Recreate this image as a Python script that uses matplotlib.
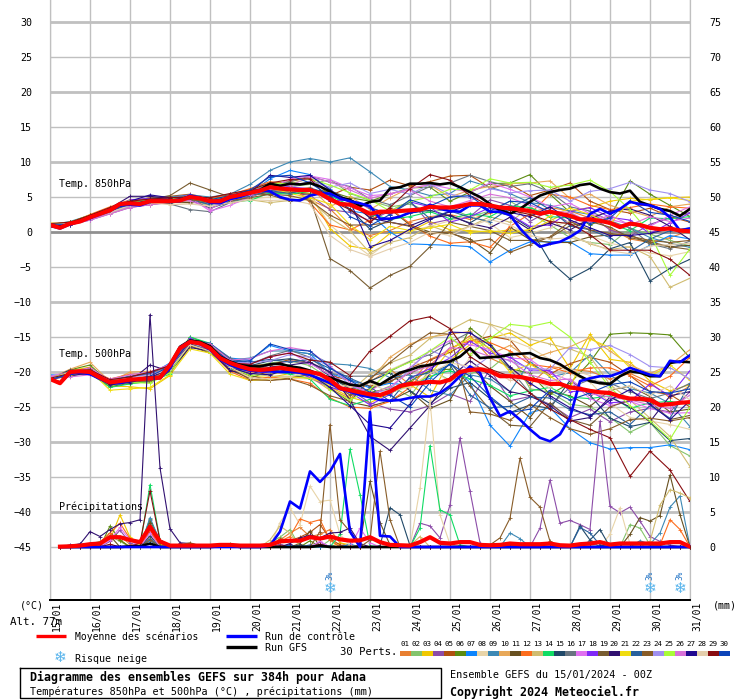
import matplotlib
matplotlib.use("Agg")
import matplotlib.pyplot as plt
import numpy as np

# run steps: every 6h for the main runs, every 12h for the temperature perts
hours = np.arange(0, 385, 6)
hours_12 = np.arange(0, 385, 12)
dates = ["15/01","16/01","17/01","18/01","19/01","20/01","21/01","22/01","23/01",
         "24/01","25/01","26/01","27/01","28/01","29/01","30/01","31/01"]
pert_colors = ["#e87f30","#84c46c","#f0c800","#8c4ca8","#b05010","#5c8c10","#0c84fc","#e8d4a8",
               "#3c88b4","#e8a858","#685020","#fc6c1c","#d0bc70","#10dc64","#204868","#687480",
               "#e070f0","#8028f8","#785c30","#301070","#f0dc10","#28609c","#885c28","#a090f0",
               "#a8fc38","#d870d8","#200890","#e4ceac","#880c10","#0c44b8"]
snow_hours = [168, 360, 378]

t850_mean = [1.0,0.6,1.2,1.5,2.1,2.6,3.1,4.0,4.1,4.0,4.4,4.4,4.4,4.5,5.0,4.8,4.4,4.4,5.0,5.3,5.6,5.9,6.4,6.2,6.1,6.0,6.0,5.5,4.7,4.0,3.9,3.3,
             2.6,2.9,2.9,3.0,3.1,3.2,3.6,3.5,3.5,3.7,4.0,4.0,3.8,3.5,3.4,3.2,3.0,2.6,2.9,2.6,2.3,1.8,1.8,1.6,1.3,0.7,1.2,1.0,0.6,0.4,0.5,0.2,0.1]
t850_gfs = [1.0,0.7,1.2,1.6,2.2,2.7,3.1,4.0,4.2,4.1,4.4,4.5,4.5,4.6,5.1,4.9,4.3,4.4,5.0,5.4,5.7,6.0,6.9,6.6,6.9,6.8,7.0,6.5,5.8,4.9,4.6,3.7,
            4.3,4.5,6.2,6.4,6.9,6.9,7.0,6.8,7.0,6.4,5.7,5.0,4.0,3.1,2.6,3.3,4.3,5.2,5.7,6.0,6.2,6.7,6.9,6.2,5.7,5.5,5.9,4.3,3.8,3.3,3.0,2.3,3.3]
t850_ctrl = [0.9,0.5,1.1,1.5,2.0,2.5,3.0,3.8,3.9,3.8,4.3,4.5,4.4,4.4,5.2,4.9,4.2,4.1,4.7,5.0,5.5,6.0,5.8,5.0,4.6,4.5,5.2,5.5,5.5,4.8,4.4,4.1,
             3.7,1.9,1.9,2.2,2.8,3.1,3.9,3.3,3.0,2.9,3.8,3.8,2.9,2.9,2.4,0.5,-1.0,-2.1,-1.7,-1.4,-0.7,0.2,2.6,3.3,2.6,3.3,4.3,4.0,3.8,3.3,2.1,0.2,0.5]

t500_mean = [-21.0,-21.6,-20.0,-19.9,-20.0,-20.8,-21.5,-21.3,-21.1,-21.0,-20.9,-20.8,-19.0,-16.6,-15.7,-15.9,-16.6,-18.0,-18.7,-19.2,-19.6,-19.7,-19.6,-19.4,-19.6,-19.8,-20.0,-20.3,-21.1,-22.3,-22.6,-22.9,
             -23.2,-23.3,-22.8,-22.0,-21.7,-21.6,-21.4,-21.5,-21.1,-20.0,-19.7,-19.6,-19.9,-20.6,-20.6,-20.7,-21.0,-21.3,-21.7,-21.7,-22.2,-22.4,-22.7,-22.9,-23.0,-23.5,-23.8,-23.8,-24.0,-24.7,-24.6,-24.4,-24.3]
t500_gfs = [-21.0,-21.5,-20.0,-20.0,-20.2,-20.8,-21.7,-21.4,-21.2,-21.0,-20.8,-20.7,-19.0,-16.4,-15.5,-15.7,-16.3,-17.8,-18.5,-19.0,-19.2,-19.2,-18.9,-18.8,-19.2,-19.4,-19.8,-20.4,-20.8,-21.3,-21.8,-22.0,
            -21.3,-21.8,-20.9,-20.1,-19.7,-19.2,-19.0,-18.7,-18.5,-17.8,-16.6,-18.0,-17.9,-17.8,-17.5,-17.4,-17.3,-18.0,-18.3,-18.9,-19.8,-20.6,-21.3,-21.6,-21.7,-20.6,-19.9,-20.1,-20.6,-20.6,-18.7,-18.5,-18.6]
t500_ctrl = [-21.0,-21.6,-20.2,-20.1,-20.3,-21.0,-21.6,-21.6,-21.2,-21.0,-20.9,-20.9,-19.5,-16.5,-15.6,-16.0,-16.8,-18.2,-19.0,-19.5,-19.8,-19.9,-19.9,-20.0,-20.0,-20.1,-20.4,-21.0,-21.6,-22.4,-22.8,-23.3,
             -23.6,-24.0,-24.1,-24.0,-23.7,-23.5,-23.5,-23.0,-22.0,-20.6,-19.2,-20.1,-23.7,-26.3,-25.6,-26.8,-28.2,-29.4,-29.9,-28.9,-26.5,-21.3,-20.9,-20.6,-20.6,-20.1,-19.4,-19.9,-20.4,-20.6,-18.4,-18.6,-17.6]

# precipitation, step number -> mm, all other steps are dry
prec_mean = {1:0.05,2:0.1,3:0.2,4:0.4,5:0.5,6:1.4,7:1.4,8:1.0,9:0.7,10:2.9,11:0.8,12:0.2,13:0.2,14:0.2,15:0.2,16:0.2,17:0.3,18:0.3,19:0.2,20:0.2,21:0.2,22:0.3,
             23:0.8,24:0.9,25:0.9,26:1.4,27:1.2,28:1.5,29:1.1,30:0.9,31:0.95,32:1.4,33:0.7,34:0.3,35:0.25,36:0.2,37:0.7,38:1.4,39:0.6,40:0.5,41:0.7,42:0.7,43:0.3,44:0.25,
             45:0.3,46:0.5,47:0.4,48:0.4,49:0.4,50:0.5,51:0.25,52:0.2,53:0.4,54:0.5,55:0.7,56:0.35,57:0.5,58:0.5,59:0.5,60:0.5,61:0.5,62:0.7,63:0.7,64:0.05}
prec_ctrl = {22:0.2,23:2.2,24:6.5,25:5.5,26:10.8,27:9.3,28:10.8,29:13.3,30:2.2,32:19.3,33:1.6,34:1.5}
prec_gfs = {8:0.1,9:0.1,10:0.5,17:0.1,18:0.2,27:0.2}

prec_perts = {
    1: {5:0.5,6:1.2,7:1.5,8:0.4,10:1.5,11:0.3,23:1.0,24:2.0,25:2.8,26:1.5,27:1.8,28:2.5,29:0.6,41:0.2,46:0.3},
    2: {4:0.4,5:0.8,6:1.6,7:0.8,9:0.5,10:3.0,11:0.4,22:0.6,23:1.4,24:2.5,28:1.0,58:3.2,59:2.7,60:0.3},
    3: {5:0.3,6:1.0,7:4.6,8:1.4,9:0.5,10:2.5,11:0.5,29:0.6,30:0.3},
    4: {6:0.8,7:2.4,8:0.6,10:3.8,11:1.0,23:0.4,27:0.7,37:3.4,38:3.0,39:1.3,40:6.0,41:15.6,42:8.0,43:0.6,49:2.7,50:9.6,51:3.4,52:3.8,53:3.2,54:2.5,55:18.0,56:5.8,57:4.9,58:5.7,59:3.7,60:1.5,61:0.8,62:0.3},
    5: {4:0.5,5:0.6,6:2.0,7:1.0,10:2.2,23:1.2,24:0.9,25:1.4,26:2.1,27:3.2,28:1.2,29:0.3},
    6: {6:3.0,7:1.0,10:4.0,11:0.6,14:0.3,18:0.5,26:0.9},
    7: {3:0.5,10:0.9,24:0.3,30:0.4},
    8: {23:3.5,24:5.6,25:3.2,26:8.7,27:6.5,28:6.7,29:1.8,30:0.2,37:8.4,38:21.0,39:4.6,40:0.4,56:1.8,57:5.6,58:0.4},
    9: {10:4.2,11:0.8,46:2.0,47:1.2,54:0.9,59:0.9,60:0.4,61:2.0,62:5.7,63:7.3},
    11: {5:0.5,6:1.6,10:3.5,25:0.5,26:2.3,31:0.3,32:9.4,33:3.5,34:0.3,58:1.8,59:4.2,60:3.7,61:4.5,62:10.3,63:4.6},
    12: {5:0.7,6:2.0,7:3.4,8:1.2,10:2.4,23:0.8,24:1.5,25:4.0,26:3.5,27:3.9,28:1.0,61:0.3,62:3.9,63:2.5},
    13: {22:1.0,23:3.0,24:2.0,36:0.2,37:1.5,60:0.8,61:6.0,62:8.2,63:7.7,64:7.0},
    14: {10:8.9,11:1.0,29:1.8,30:14.0,31:7.5,32:0.2,37:2.7,38:14.5,39:5.3,40:4.6,41:0.3},
    15: {3:0.3,10:1.6,25:0.3,33:0.2,34:5.6,35:4.6,36:0.2,53:3.0,54:1.0,55:2.5},
    17: {6:1.0,7:2.8,8:1.0,10:2.0,27:0.8,31:2.7,32:0.6,64:0.1},
    20: {2:0.3,3:0.4,4:2.2,5:1.5,6:2.5,7:3.3,8:3.5,9:3.9,10:33.2,11:11.3,12:2.6,13:0.6,14:0.5,15:0.2,24:0.5,25:1.3,26:1.7,27:1.3,28:2.0,29:2.1,30:2.7,31:0.5},
    22: {4:0.3,10:1.2,26:0.3,28:0.2,53:2.8,54:2.0,55:0.3},
    23: {4:0.2,10:1.0,13:0.3,14:0.6,15:0.2,27:2.2,28:17.5,29:3.9,30:2.2,32:1.0,33:13.7,34:3.9,46:4.1,45:1.3,47:12.7,48:7.1,49:5.7,50:0.8,44:0.3},
    29: {6:0.4,9:0.6,10:8.0,11:0.9,23:0.2,27:0.4},
}

t850_perts = [
    [1.1,1.3,2.3,3.2,4.2,4.5,4.6,5.2,4.6,5.0,5.8,6.6,6.4,4.6,3.3,0.5,-0.5,0.2,1.5,2.2,2.5,1.8,2.7,3.2,2.8,3.5,3.0,2.0,0.5,-1.0,-1.5,-0.8,0.2],
    [0.8,1.4,1.9,2.9,3.8,4.6,4.7,4.8,4.2,4.6,5.2,6.0,6.5,6.8,7.5,5.5,4.5,3.6,4.0,2.8,3.4,2.2,3.0,4.4,2.7,1.0,-0.8,-1.5,-1.8,0.5,-0.3,-1.2,-2.0],
    [1.3,1.1,2.4,3.3,4.3,4.1,4.5,4.9,4.7,5.2,5.9,6.8,6.0,5.5,0.5,-2.0,-2.5,-0.2,0.1,1.5,0.3,0.2,0.0,0.3,0.2,1.6,3.0,3.5,4.4,4.8,4.6,4.9,5.0],
    [0.9,1.0,1.7,2.6,3.5,3.9,4.2,5.3,4.0,4.8,5.4,6.0,5.7,5.2,3.2,2.8,1.6,3.0,4.4,1.2,1.8,2.2,4.6,3.8,1.5,3.1,1.2,2.4,0.3,-0.6,1.1,2.0,2.8],
    [1.0,1.4,2.0,3.0,4.3,4.9,5.1,5.4,4.8,5.1,6.0,6.9,7.2,7.8,5.2,6.4,6.0,7.4,6.6,7.2,8.0,8.1,6.3,6.8,5.2,6.0,7.0,4.4,3.2,2.7,3.4,2.2,1.4],
    [1.2,1.0,2.1,2.9,4.4,4.3,4.6,4.7,4.5,5.0,5.6,6.2,5.8,6.0,5.8,4.9,4.4,5.4,6.3,6.4,4.4,5.7,6.9,7.0,8.2,5.4,2.8,1.0,2.2,7.3,5.4,3.8,2.2],
    [0.7,1.2,1.8,3.0,3.9,4.5,4.4,4.4,3.9,4.9,5.5,7.6,8.8,8.2,6.1,3.0,2.6,0.0,-1.7,-1.8,-1.9,-2.1,-4.3,-2.6,-1.4,-1.4,-1.4,-3.1,-3.3,-3.3,-1.9,-0.5,-1.0],
    [1.1,1.3,2.2,3.1,4.0,4.0,4.2,4.1,4.3,4.4,4.7,5.0,4.8,5.3,1.0,-1.3,-3.4,-1.2,0.2,0.8,1.6,2.4,1.2,-0.8,-0.2,0.6,1.6,-0.5,-1.6,-2.2,-3.0,-3.4,-2.8],
    [1.0,1.5,2.4,3.4,4.5,4.8,5.0,5.3,5.0,5.4,6.8,8.8,10.0,10.5,10.0,10.6,8.6,6.5,6.0,5.2,5.5,7.3,6.4,5.5,4.2,3.8,3.0,2.5,1.4,0.6,-0.8,-1.6,-2.2],
    [0.8,1.1,2.0,2.8,3.7,4.4,4.5,5.0,4.5,4.7,5.1,5.8,5.9,6.4,3.6,5.1,3.2,4.9,6.3,6.7,5.0,6.0,6.5,6.9,7.0,7.3,4.8,5.4,3.8,3.0,2.2,3.6,4.0],
    [1.1,1.2,2.1,3.3,4.1,4.3,4.3,4.2,4.3,4.9,5.4,5.6,5.6,5.4,5.8,4.2,2.1,3.3,1.0,0.0,-0.2,-1.0,-3.0,0.7,-1.1,-1.5,-1.5,-0.7,-0.4,-0.4,-1.7,-2.1,-1.9],
    [1.0,1.3,2.5,3.6,4.6,4.7,4.9,5.0,4.9,5.3,6.2,7.2,6.8,4.2,1.0,0.3,1.7,3.4,1.2,-0.6,-1.6,-1.4,-2.2,0.8,2.6,5.4,5.0,3.8,3.2,3.5,4.0,3.6,3.4],
    [0.9,1.1,1.8,2.7,3.6,4.0,4.3,4.4,3.8,4.1,4.6,4.2,4.5,4.6,2.0,0.2,-3.0,-1.5,-0.8,0.9,-0.1,0.8,2.2,1.4,3.6,2.1,-0.4,-1.7,-2.5,-2.1,-3.5,-7.9,-6.6],
    [1.2,1.2,2.2,3.1,4.2,4.3,4.6,4.8,4.2,4.4,4.5,5.6,5.4,5.8,5.2,3.8,2.6,1.8,2.2,2.9,1.9,2.6,2.2,3.7,3.5,2.2,2.0,1.7,1.2,0.2,2.0,1.9,2.2],
    [1.0,1.2,1.9,2.9,4.0,4.4,4.1,4.6,3.4,4.3,5.0,6.0,6.3,5.9,5.0,3.3,0.4,1.7,2.7,3.1,2.3,1.3,3.0,2.4,0.6,-4.2,-6.7,-5.2,-2.4,-1.5,-7.0,-5.2,-3.9],
    [0.9,1.0,2.0,3.2,4.3,4.6,4.0,3.2,2.9,4.2,5.2,6.5,7.2,8.0,7.1,6.5,4.7,3.9,5.2,6.5,7.0,8.1,7.2,6.5,6.9,5.7,3.6,3.0,1.6,0.6,-1.7,-2.4,-1.3],
    [1.1,1.1,1.8,2.9,3.8,4.1,4.5,4.9,3.0,3.8,5.0,6.2,7.6,8.0,7.5,6.3,5.2,5.4,6.2,6.8,6.2,5.7,7.0,6.1,5.0,3.6,4.1,2.6,1.8,1.1,0.8,2.4,3.6],
    [0.8,1.1,2.0,3.1,4.6,4.8,4.7,5.3,4.4,5.1,5.8,6.9,6.4,6.2,4.4,4.6,3.4,2.6,4.3,3.6,1.4,2.2,3.5,2.5,0.8,1.0,2.9,3.5,2.1,1.7,-0.2,1.3,2.7],
    [1.1,1.4,2.2,3.2,4.4,4.7,5.2,7.0,6.0,5.0,5.5,5.3,4.4,4.9,-3.8,-5.5,-8.0,-6.2,-4.9,-2.1,1.4,0.8,0.2,-1.2,-1.2,-0.8,0.9,1.5,0.7,-0.8,-1.4,-2.1,-2.5],
    [1.0,1.2,2.2,3.4,5.1,5.1,4.8,4.9,4.5,5.1,5.6,6.4,6.2,6.2,5.4,4.4,2.0,1.4,0.9,2.0,2.4,1.2,0.6,2.1,0.3,1.3,0.3,1.9,3.0,3.3,2.4,0.8,-1.1],
    [1.2,1.3,2.3,3.1,4.3,4.3,4.5,5.1,4.3,4.6,5.5,6.3,5.5,4.9,4.0,1.0,-1.1,0.8,0.2,0.6,1.1,-0.1,0.2,-0.2,0.4,2.3,3.4,2.5,1.1,4.4,4.7,4.9,4.5],
    [0.9,1.3,2.1,3.0,3.9,4.7,4.4,4.7,3.9,4.8,5.2,5.9,5.5,6.3,5.4,4.6,3.5,2.5,4.3,1.9,3.0,2.1,1.5,3.4,4.9,3.2,0.9,0.3,-0.8,-2.8,-1.0,0.2,0.6],
    [1.0,1.2,2.0,3.0,4.2,4.2,4.4,4.6,4.3,4.5,4.9,5.4,5.2,4.5,2.4,1.0,1.0,1.4,0.8,-0.3,0.0,-1.4,-1.0,-2.9,-1.8,-0.7,1.5,0.3,-0.2,-0.6,-1.2,-1.5,-1.2],
    [0.9,1.0,1.9,2.8,3.7,4.2,4.6,5.0,4.5,4.9,5.7,6.5,6.3,7.3,6.4,7.0,5.5,6.1,5.4,6.8,5.4,4.9,6.2,5.6,5.9,6.0,4.4,5.8,6.2,7.1,6.0,5.5,4.3],
    [1.1,1.4,2.4,3.3,4.5,4.4,4.7,5.2,4.6,5.1,5.9,7.0,6.9,7.6,6.7,5.6,4.6,3.0,4.4,5.0,6.1,6.0,7.6,7.0,7.1,6.4,6.7,7.4,5.8,3.2,-0.2,-6.2,-2.4],
    [1.0,1.1,1.7,2.6,3.5,3.9,4.3,4.5,3.3,4.6,5.3,6.1,6.7,7.8,7.2,6.0,4.8,5.5,6.0,4.4,3.6,4.5,5.4,4.9,3.8,3.0,2.8,1.4,2.4,1.0,2.2,1.5,2.0],
    [0.9,1.0,2.0,3.3,4.4,5.3,4.9,5.0,4.4,5.0,5.6,8.1,7.8,8.1,6.0,4.4,-2.1,-1.2,0.4,1.8,2.9,3.9,3.6,2.8,2.2,3.6,1.7,0.6,-0.5,-0.5,-0.2,0.5,0.0],
    [1.0,1.3,2.0,2.8,3.8,4.2,3.9,4.0,3.7,4.2,4.6,4.5,4.6,4.0,-0.5,-2.5,-3.5,-2.4,-1.5,0.0,-0.5,0.8,1.8,1.0,-0.5,-1.0,-0.8,-1.5,-2.7,-3.1,-2.0,-1.8,-1.6],
    [1.2,1.4,2.4,3.5,4.4,4.7,4.9,5.0,4.9,5.5,6.0,7.0,7.5,7.6,4.5,3.2,1.4,3.5,6.2,8.2,7.4,5.2,3.7,3.1,2.5,1.5,1.2,-0.4,-2.6,-2.6,-2.6,-3.9,-6.2],
    [1.1,1.1,2.0,3.2,4.1,4.4,4.5,5.1,4.6,5.2,6.0,7.9,8.1,7.0,5.2,2.2,0.9,2.5,4.6,3.7,5.0,5.2,3.0,4.4,4.2,2.8,2.2,1.2,2.0,4.5,2.8,2.4,1.5],
]

t500_perts = [
    [-21.0,-20.1,-19.6,-21.8,-21.4,-20.8,-19.5,-15.5,-16.5,-18.9,-19.6,-19.3,-19.0,-20.4,-22.4,-23.8,-21.4,-19.6,-21.8,-18.2,-16.9,-14.8,-18.0,-19.3,-21.8,-19.2,-19.6,-19.9,-21.0,-20.2,-21.5,-23.7,-22.0],
    [-20.9,-20.2,-19.9,-21.5,-20.9,-20.3,-19.2,-15.2,-16.8,-18.4,-19.3,-18.7,-18.4,-19.1,-21.0,-23.0,-23.2,-22.0,-23.5,-19.6,-21.2,-20.2,-19.6,-17.2,-22.4,-22.9,-24.6,-25.0,-26.5,-28.6,-27.2,-30.5,-32.0],
    [-21.0,-19.8,-19.3,-22.0,-22.1,-22.4,-20.5,-16.2,-17.2,-19.6,-20.6,-20.8,-20.2,-20.3,-22.1,-23.6,-24.4,-23.0,-21.8,-23.6,-18.3,-16.1,-15.2,-14.4,-16.2,-15.1,-19.5,-14.6,-18.2,-18.6,-21.3,-22.7,-21.8],
    [-20.6,-20.4,-20.3,-21.4,-21.0,-20.8,-18.9,-15.8,-16.5,-19.2,-20.0,-19.0,-18.4,-18.8,-19.9,-22.5,-24.4,-25.3,-25.7,-24.8,-23.1,-24.2,-19.6,-24.1,-23.5,-24.6,-26.5,-25.3,-27.1,-25.7,-25.2,-25.7,-22.8],
    [-20.9,-20.0,-19.4,-21.7,-21.2,-21.1,-19.4,-15.4,-16.2,-18.5,-19.0,-19.0,-18.2,-18.6,-20.5,-21.2,-22.0,-21.5,-19.4,-18.3,-17.2,-15.6,-14.9,-15.4,-18.8,-20.3,-18.8,-17.9,-18.6,-20.5,-22.8,-23.2,-25.0],
    [-21.1,-19.7,-19.0,-21.6,-21.4,-20.6,-19.1,-15.0,-16.1,-18.1,-19.2,-19.6,-20.2,-20.0,-20.8,-22.2,-22.9,-22.4,-21.3,-19.8,-19.6,-13.7,-15.9,-19.5,-20.2,-23.2,-21.6,-18.6,-14.6,-14.4,-14.5,-14.7,-18.0],
    [-20.4,-20.5,-19.7,-21.1,-20.6,-20.4,-18.7,-15.6,-15.9,-18.0,-18.3,-16.2,-17.0,-17.4,-20.2,-21.1,-22.3,-21.6,-21.9,-20.9,-18.8,-21.5,-27.6,-30.6,-25.8,-25.1,-28.1,-30.1,-31.0,-30.8,-30.8,-30.4,-31.1],
    [-21.0,-19.9,-20.0,-21.9,-21.0,-20.7,-20.4,-16.1,-16.9,-19.4,-21.0,-21.0,-20.9,-21.0,-22.0,-23.2,-22.5,-19.7,-18.4,-19.3,-21.5,-18.0,-13.2,-15.4,-16.5,-18.2,-20.2,-21.4,-24.5,-26.5,-27.0,-27.5,-28.2],
    [-20.7,-20.6,-20.1,-21.5,-21.2,-20.5,-19.2,-15.7,-16.6,-18.3,-18.0,-17.0,-17.0,-17.4,-18.8,-19.0,-19.5,-20.8,-20.4,-22.6,-23.3,-20.4,-21.0,-22.8,-18.5,-20.7,-20.1,-17.5,-20.4,-22.4,-23.0,-24.5,-27.8],
    [-20.9,-19.6,-18.6,-21.4,-20.0,-19.9,-19.7,-15.3,-16.3,-19.0,-20.0,-20.3,-20.0,-20.7,-22.6,-22.4,-21.2,-17.9,-16.0,-15.0,-14.6,-14.2,-17.5,-16.2,-18.2,-17.2,-16.4,-15.1,-17.0,-19.0,-20.2,-19.0,-16.8],
    [-21.0,-20.2,-20.1,-22.1,-21.6,-21.4,-20.0,-15.9,-16.8,-19.7,-20.9,-19.8,-19.9,-20.4,-22.3,-24.3,-24.9,-24.1,-22.7,-25.2,-24.0,-19.1,-22.0,-24.2,-26.5,-22.8,-23.4,-24.9,-22.6,-22.0,-23.5,-25.7,-25.3],
    [-21.0,-20.6,-19.7,-21.0,-20.3,-20.3,-19.3,-15.9,-17.0,-19.9,-21.2,-20.7,-21.0,-21.6,-23.7,-25.0,-25.2,-24.2,-22.2,-19.0,-16.6,-15.5,-15.8,-17.0,-18.9,-19.3,-20.1,-19.4,-19.4,-20.5,-22.0,-20.6,-17.9],
    [-21.0,-20.3,-19.8,-21.2,-21.0,-21.2,-19.6,-16.0,-16.6,-19.1,-20.2,-20.6,-20.6,-20.8,-21.5,-22.8,-20.3,-18.7,-17.6,-15.2,-14.0,-12.5,-13.2,-14.0,-15.3,-16.0,-16.7,-17.8,-21.8,-24.0,-26.6,-29.2,-33.5],
    [-21.1,-20.3,-20.2,-22.2,-21.7,-21.3,-20.3,-15.0,-15.9,-19.5,-19.7,-19.8,-20.3,-21.0,-23.9,-24.8,-23.9,-23.0,-21.9,-20.6,-19.8,-21.0,-21.9,-23.4,-22.7,-22.2,-23.6,-23.8,-23.4,-25.2,-24.4,-24.2,-24.6],
    [-21.0,-19.7,-19.9,-21.6,-20.8,-20.4,-19.4,-15.8,-16.3,-18.8,-19.1,-18.4,-18.1,-18.6,-20.6,-22.5,-21.3,-20.1,-22.7,-24.5,-22.3,-21.5,-23.8,-25.8,-24.7,-25.2,-21.2,-23.3,-26.6,-27.8,-27.2,-29.8,-29.5],
    [-20.8,-20.1,-19.5,-21.3,-20.7,-20.1,-18.9,-15.4,-16.0,-18.0,-18.9,-17.7,-16.9,-17.9,-20.2,-20.6,-20.6,-19.9,-18.5,-17.5,-15.8,-14.3,-16.8,-19.6,-23.0,-24.8,-22.2,-21.1,-21.6,-22.8,-23.8,-23.0,-21.6],
    [-20.6,-20.0,-19.4,-21.2,-20.9,-20.7,-19.3,-15.3,-16.5,-18.7,-18.8,-17.9,-17.2,-18.8,-20.4,-22.0,-22.7,-21.0,-19.4,-17.0,-15.5,-16.1,-16.8,-18.0,-18.2,-20.2,-21.2,-23.8,-24.8,-24.2,-25.2,-25.9,-25.8],
    [-21.1,-20.0,-20.1,-21.6,-20.8,-20.4,-19.7,-15.2,-16.4,-18.9,-19.8,-20.2,-19.6,-20.8,-22.2,-22.9,-24.7,-23.2,-20.9,-19.5,-18.0,-15.6,-17.3,-17.9,-19.7,-19.8,-22.8,-22.7,-24.4,-24.2,-21.7,-23.4,-19.8],
    [-21.0,-20.4,-20.3,-21.9,-21.5,-21.2,-20.0,-16.3,-17.3,-19.0,-20.5,-21.2,-20.8,-20.4,-21.3,-23.3,-22.4,-21.3,-20.2,-18.8,-18.6,-22.0,-25.4,-27.6,-27.8,-24.4,-26.8,-27.6,-25.0,-24.0,-24.2,-26.8,-26.2],
    [-21.0,-20.6,-20.0,-21.5,-21.3,-19.0,-19.9,-16.5,-17.0,-19.8,-20.4,-19.3,-19.0,-18.6,-20.0,-24.0,-29.2,-31.2,-28.0,-24.8,-20.8,-18.4,-20.5,-22.8,-23.4,-24.8,-27.0,-26.5,-23.6,-25.0,-27.1,-23.4,-22.8],
    [-20.9,-20.5,-19.8,-22.6,-22.4,-22.2,-20.4,-16.7,-17.3,-20.3,-21.2,-21.1,-20.7,-20.9,-21.8,-22.6,-23.4,-22.8,-22.0,-20.4,-16.8,-15.2,-16.6,-20.0,-18.9,-20.6,-22.4,-15.3,-16.5,-19.4,-20.6,-19.0,-21.2],
    [-21.0,-20.2,-19.8,-21.3,-20.6,-20.2,-19.0,-15.4,-15.9,-18.2,-18.6,-18.2,-18.6,-18.2,-19.5,-20.9,-22.1,-24.2,-20.7,-20.1,-19.0,-23.3,-25.1,-24.9,-23.6,-23.7,-25.4,-26.1,-25.7,-27.5,-24.8,-26.6,-21.7],
    [-21.0,-19.9,-19.6,-21.7,-21.2,-21.3,-19.8,-15.8,-16.7,-19.3,-21.1,-21.2,-21.0,-21.9,-23.4,-24.2,-21.0,-18.6,-16.3,-14.4,-14.6,-25.7,-26.0,-26.9,-24.6,-26.5,-28.1,-28.9,-28.1,-26.8,-26.6,-27.0,-26.5],
    [-21.1,-20.2,-19.8,-21.7,-20.8,-20.4,-19.3,-15.9,-16.7,-18.6,-18.7,-18.4,-17.5,-17.9,-19.2,-21.9,-23.1,-22.5,-19.5,-16.9,-18.0,-19.8,-17.7,-18.4,-19.5,-19.6,-16.5,-16.8,-16.2,-17.5,-19.2,-19.4,-21.0],
    [-20.8,-20.1,-20.1,-21.9,-21.5,-21.6,-20.1,-15.9,-17.1,-19.3,-20.5,-20.3,-19.8,-20.0,-22.5,-24.0,-22.5,-19.8,-18.6,-17.0,-15.0,-17.5,-15.2,-13.2,-13.5,-12.9,-15.0,-18.6,-22.2,-24.8,-27.0,-29.6,-25.0],
    [-20.6,-20.7,-20.4,-21.0,-20.4,-20.0,-18.9,-15.6,-16.0,-18.3,-18.1,-17.0,-16.5,-17.0,-19.2,-21.5,-23.2,-22.1,-20.0,-19.2,-16.5,-16.8,-17.8,-18.3,-20.4,-21.2,-21.0,-23.1,-23.6,-24.0,-24.7,-25.2,-23.3],
    [-21.0,-20.3,-20.2,-21.8,-21.5,-20.8,-19.5,-16.0,-17.0,-19.4,-20.2,-20.4,-19.5,-20.3,-22.2,-24.8,-27.5,-28.0,-24.6,-20.2,-14.3,-14.4,-16.2,-19.3,-21.6,-23.4,-25.1,-26.3,-24.0,-22.5,-24.6,-26.8,-24.1],
    [-21.0,-20.0,-20.0,-21.3,-20.9,-20.5,-19.6,-16.1,-17.0,-19.3,-20.8,-21.0,-20.7,-19.9,-21.6,-22.1,-21.6,-22.9,-22.1,-20.2,-18.7,-19.2,-19.5,-21.2,-20.8,-22.3,-19.6,-20.5,-22.5,-22.0,-23.3,-22.0,-24.0],
    [-20.9,-20.2,-19.7,-21.1,-20.7,-20.0,-19.1,-15.6,-16.3,-18.7,-18.9,-17.8,-17.3,-18.3,-18.6,-20.5,-17.0,-14.9,-12.7,-12.1,-13.8,-17.8,-19.6,-20.6,-23.0,-25.3,-26.8,-28.2,-29.4,-34.9,-31.3,-34.0,-38.5],
    [-21.1,-20.3,-20.0,-21.5,-21.1,-20.6,-19.2,-15.5,-16.4,-18.5,-18.4,-16.0,-16.8,-17.0,-19.4,-21.2,-22.9,-23.3,-25.0,-21.5,-18.8,-20.6,-23.5,-25.8,-25.3,-22.6,-24.0,-23.0,-21.8,-21.4,-22.8,-23.0,-22.4],
]

# figure laid out on the 740x700 pixel grid of the original
W, H = 740, 700
fig = plt.figure(figsize=(W/100, H/100), dpi=100, facecolor="white")
ax = fig.add_axes([50/W, 100/H, 640/W, 600/H])
ax.set_xlim(0, 384)
ax.set_ylim(-45-53/7, 30+22/7)
axp = ax.twinx()
axp.set_ylim(-53/7, 75+22/7)

mono = "DejaVu Sans Mono"
for s in ["top"]:
    ax.spines[s].set_visible(False)
    axp.spines[s].set_visible(False)
for a in (ax, axp):
    a.spines["left"].set_color("#c0c0c0")
    a.spines["right"].set_color("#c0c0c0")
    a.spines["bottom"].set_color("black")
    a.spines["bottom"].set_linewidth(1.4)

ax.set_xticks(np.arange(0, 385, 24))
ax.set_xticklabels([])
ax.set_yticks(np.arange(-45, 31, 5))
axp.set_yticks(np.arange(0, 76, 5))
ax.tick_params(axis="both", length=0)
axp.tick_params(axis="both", length=0)
ax.tick_params(axis="y", labelsize=7.2, pad=13)
axp.tick_params(axis="y", labelsize=7.2, pad=13.7)
for lab in ax.get_yticklabels() + axp.get_yticklabels():
    lab.set_family(mono)

ax.set_axisbelow(True)
ax.grid(axis="x", color="#c0c0c0", lw=1.0)
for t in np.arange(-45, 31, 5):
    if t == 0:
        ax.axhline(t, color="#909090", lw=2.0, zorder=1)
    elif t % 10 == 0:
        ax.axhline(t, color="#c0c0c0", lw=2.0, zorder=1)
    else:
        ax.axhline(t, color="#c0c0c0", lw=1.0, zorder=1)


def thin(a, x, y, c):
    a.plot(x, y, color=c, lw=0.8, marker="+", ms=2.4, mew=0.6, zorder=3)


for n, vals in enumerate(t850_perts):
    thin(ax, hours_12, vals, pert_colors[n])
for n, vals in enumerate(t500_perts):
    thin(ax, hours_12, vals, pert_colors[n])


def rain(d):
    out = np.zeros(len(hours))
    out[0] = np.nan
    for k, v in d.items():
        out[k] = v
    return out


for n, d in prec_perts.items():
    thin(axp, hours, rain(d), pert_colors[n-1])

for a, ser, c in [(ax, t850_gfs, "black"), (ax, t500_gfs, "black"), (axp, rain(prec_gfs), "black"),
                  (ax, t850_ctrl, "#0000ff"), (ax, t500_ctrl, "#0000ff"), (axp, rain(prec_ctrl), "#0000ff")]:
    a.plot(hours, ser, color=c, lw=1.9, zorder=5, solid_joinstyle="round")
for a, ser in [(ax, t850_mean), (ax, t500_mean), (axp, rain(prec_mean))]:
    a.plot(hours, ser, color="#ff0000", lw=3.0, zorder=6, solid_joinstyle="round")

# date labels sit just right of their gridline
for h, d in zip(ax.get_xticks(), dates):
    ax.annotate(d, xy=(h, 0), xycoords=("data", "axes fraction"), xytext=(5, -1.5),
                textcoords="offset points", rotation=90, ha="center", va="top",
                family=mono, fontsize=7.0, annotation_clip=False)

for h in snow_hours:
    ax.annotate("❄", xy=(h, 0), xycoords=("data", "axes fraction"), xytext=(0, 8),
                textcoords="offset points", ha="center", va="center", color="#58b4ec",
                family="DejaVu Sans", fontsize=11, fontweight="bold", annotation_clip=False)
    ax.annotate("3%", xy=(h, 0), xycoords=("data", "axes fraction"), xytext=(0, 18),
                textcoords="offset points", ha="center", va="center", rotation=90, color="#2878c8",
                family=mono, fontsize=5.6, annotation_clip=False)

# everything outside the plot, in picture pixels
over = fig.add_axes([0, 0, 1, 1], zorder=10)
over.set_xlim(0, W)
over.set_ylim(H, 0)
over.axis("off")


def label(x, y, s, size=7.2, **kw):
    over.text(x, y, s, family=mono, fontsize=size, va="center", ha="left", **kw)


label(59, 184, "Temp. 850hPa")
label(59, 354, "Temp. 500hPa")
label(59, 507, "Précipitations")
label(20, 606, "(°C)")
label(713, 606, "(mm)")
label(10, 622, "Alt. 77m", size=7.8)
over.plot([36, 66], [636, 636], color="#ff0000", lw=2.4, solid_capstyle="butt")
label(75, 637, "Moyenne des scénarios", size=7.0)
over.plot([226, 257], [636, 636], color="#0000ff", lw=2.4, solid_capstyle="butt")
label(265, 637, "Run de contrôle")
over.plot([226, 257], [647, 647], color="black", lw=2.4, solid_capstyle="butt")
label(265, 648, "Run GFS")
over.text(60, 658, "❄", color="#58b4ec", family="DejaVu Sans", fontsize=11, fontweight="bold", ha="center", va="center")
label(75, 659, "Risque neige")
label(340, 652, "30 Perts.", size=7.6)
for n, c in enumerate(pert_colors):
    x0 = 400 + n * 11
    over.fill_between([x0, x0 + 10.5], 651, 656, color=c, lw=0)
    over.text(x0 + 5.2, 644, "%02d" % (n + 1), family=mono, fontsize=5.4, ha="center", va="center")
over.plot([20, 441, 441, 20, 20], [668, 668, 698, 698, 668], color="black", lw=1.0)
label(30, 677, "Diagramme des ensembles GEFS sur 384h pour Adana", size=8.4, fontweight="bold")
label(30, 692, "Températures 850hPa et 500hPa (°C) , précipitations (mm)", size=7.3)
label(450, 675, "Ensemble GEFS du 15/01/2024 - 00Z", size=7.25)
label(450, 692, "Copyright 2024 Meteociel.fr", size=8.4, fontweight="bold")

fig.savefig("out.png", dpi=100)
